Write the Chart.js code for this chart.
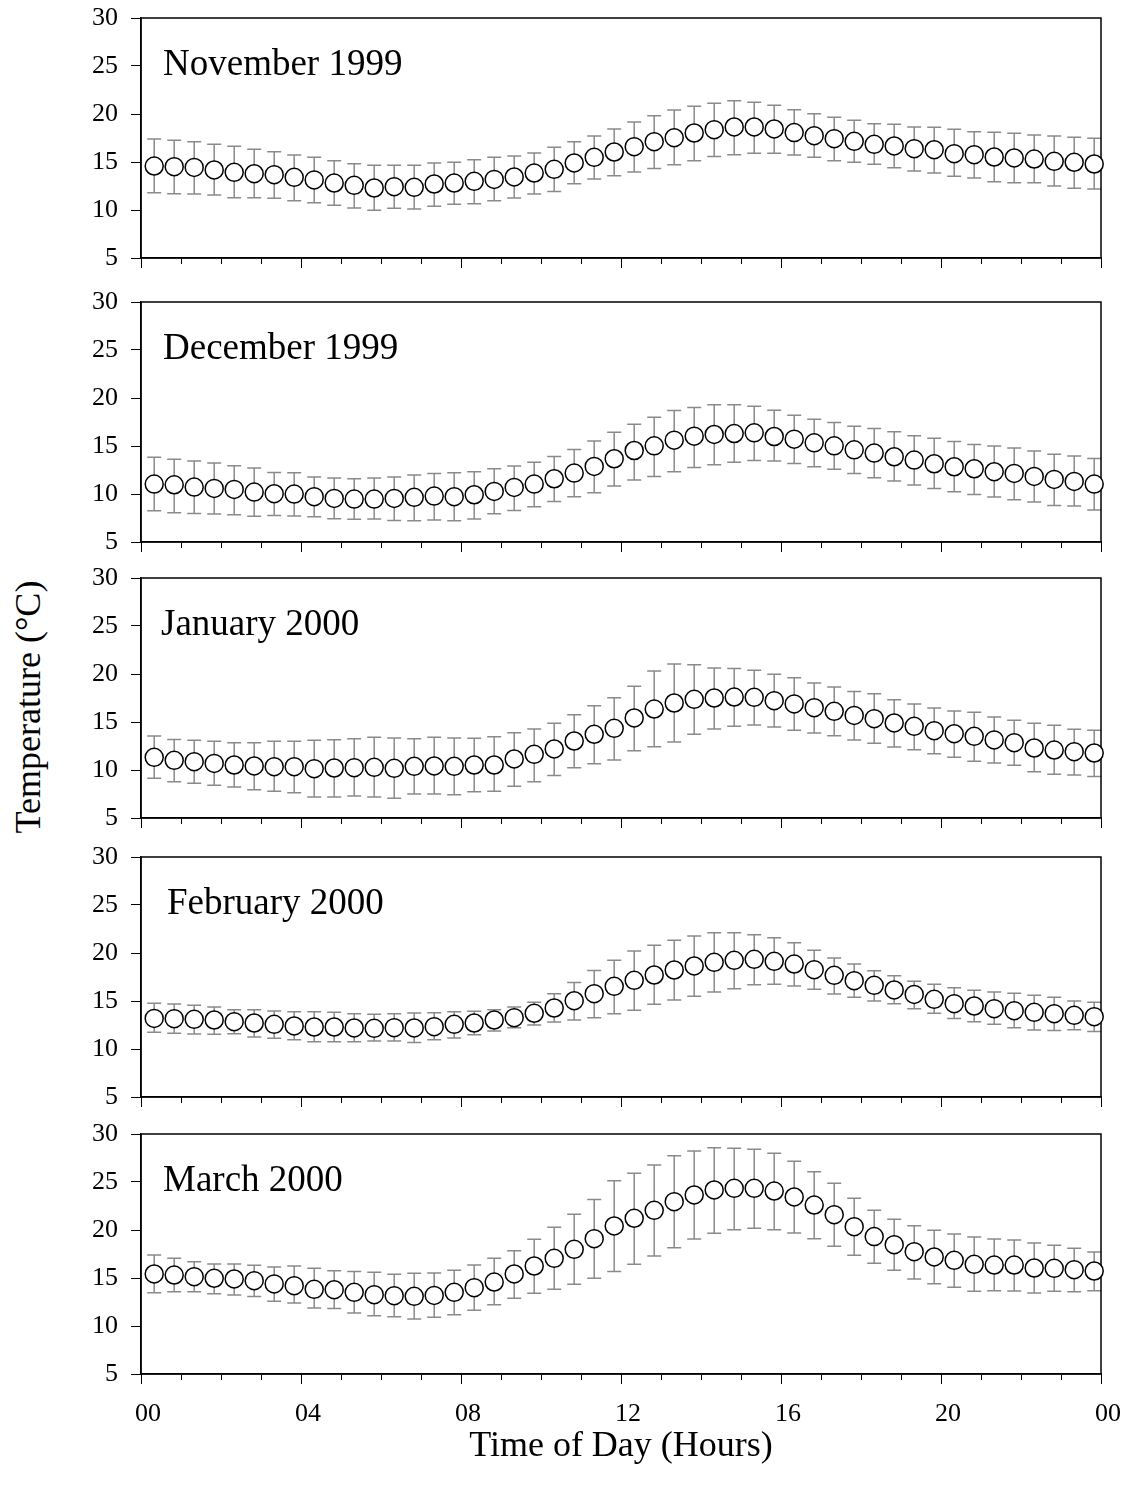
<!DOCTYPE html>
<html lang="en">
<head>
<meta charset="UTF-8">
<title>Diurnal Temperature, Nov 1999 - Mar 2000</title>
<style>
  body { margin: 0; background: #fff; }
  #wrap { position: relative; width: 1126px; height: 1494px; }
  #wrap canvas { position: absolute; left: 0; }
  #ytitle {
    position: absolute; left: 28px; top: 707px;
    transform: translate(-50%, -50%) rotate(-90deg);
    font: 36px "Liberation Serif", "Times New Roman", serif;
    white-space: nowrap; color: #000;
  }
</style>
</head>
<body>
<div id="wrap">
  <div id="ytitle">Temperature (°C)</div>
</div>

<script src="https://cdn.jsdelivr.net/npm/chart.js@4.4.0/dist/chart.umd.min.js"></script>
<script>
// half-hourly readings, hour of day
const hours = [0.33, 0.83, 1.33, 1.83, 2.33, 2.83, 3.33, 3.83, 4.33, 4.83, 5.33, 5.83,
               6.33, 6.83, 7.33, 7.83, 8.33, 8.83, 9.33, 9.83, 10.33, 10.83, 11.33, 11.83,
               12.33, 12.83, 13.33, 13.83, 14.33, 14.83, 15.33, 15.83, 16.33, 16.83, 17.33, 17.83,
               18.33, 18.83, 19.33, 19.83, 20.33, 20.83, 21.33, 21.83, 22.33, 22.83, 23.33, 23.83];
const hourTicks = [0, 4, 8, 12, 16, 20, 24];

const novMean = [14.58, 14.51, 14.44, 14.17, 13.92, 13.78, 13.68, 13.40, 13.13, 12.81, 12.57, 12.29,
                 12.43, 12.36, 12.71, 12.81, 12.99, 13.19, 13.44, 13.85, 14.24, 14.90, 15.49, 16.04,
                 16.60, 17.12, 17.53, 18.02, 18.37, 18.65, 18.65, 18.44, 18.06, 17.74, 17.43, 17.15,
                 16.84, 16.67, 16.39, 16.28, 15.87, 15.76, 15.52, 15.42, 15.31, 15.07, 14.97, 14.79];
const novHigh = [17.40, 17.26, 17.12, 16.84, 16.63, 16.32, 16.08, 15.73, 15.49, 15.14, 14.83, 14.65,
                 14.65, 14.65, 14.90, 14.97, 15.24, 15.49, 15.63, 15.94, 16.53, 17.12, 17.71, 18.44,
                 19.17, 19.83, 20.42, 20.80, 21.11, 21.39, 21.22, 20.90, 20.45, 20.03, 19.65, 19.34,
                 18.99, 18.92, 18.65, 18.61, 18.40, 18.16, 18.09, 17.99, 17.81, 17.71, 17.57, 17.47];
const novLow  = [11.80, 11.70, 11.67, 11.56, 11.28, 11.28, 11.22, 10.97, 10.76, 10.49, 10.21, 9.97,
                 10.17, 10.10, 10.38, 10.59, 10.66, 10.97, 11.25, 11.67, 11.94, 12.74, 13.23, 13.58,
                 13.96, 14.31, 14.72, 15.14, 15.56, 15.76, 15.90, 15.90, 15.73, 15.49, 15.14, 14.97,
                 14.76, 14.41, 14.06, 13.85, 13.51, 13.33, 12.95, 12.85, 12.85, 12.50, 12.26, 12.19];

const decMean = [11.03, 10.96, 10.72, 10.58, 10.48, 10.20, 10.03, 9.99, 9.72, 9.54, 9.47, 9.47,
                 9.54, 9.65, 9.78, 9.72, 9.92, 10.27, 10.69, 11.03, 11.59, 12.18, 12.87, 13.67,
                 14.53, 15.02, 15.61, 16.02, 16.20, 16.30, 16.37, 15.99, 15.71, 15.33, 15.02, 14.60,
                 14.26, 13.88, 13.53, 13.15, 12.84, 12.63, 12.32, 12.14, 11.83, 11.52, 11.31, 11.03];
const decHigh = [13.84, 13.63, 13.43, 13.22, 12.94, 12.70, 12.25, 12.21, 11.76, 11.66, 11.59, 11.66,
                 11.76, 11.97, 12.14, 12.21, 12.32, 12.63, 12.91, 13.32, 13.91, 14.64, 15.51, 16.44,
                 17.27, 18.00, 18.70, 19.01, 19.29, 19.29, 19.15, 18.73, 18.21, 17.79, 17.45, 17.07,
                 16.82, 16.48, 16.06, 15.82, 15.47, 15.16, 14.99, 14.78, 14.47, 14.15, 13.95, 13.70];
const decLow  = [8.26, 8.05, 7.98, 7.91, 7.84, 7.67, 7.77, 7.70, 7.64, 7.43, 7.36, 7.39,
                 7.25, 7.22, 7.29, 7.22, 7.39, 7.95, 8.29, 8.68, 9.23, 9.72, 10.13, 10.83,
                 11.45, 11.83, 12.32, 12.77, 13.04, 13.32, 13.50, 13.43, 13.18, 12.84, 12.59, 12.14,
                 11.69, 11.35, 10.93, 10.58, 10.24, 9.96, 9.68, 9.40, 9.16, 8.81, 8.74, 8.33];

const janMean = [11.32, 11.01, 10.87, 10.69, 10.52, 10.42, 10.35, 10.35, 10.14, 10.21, 10.24, 10.28,
                 10.17, 10.38, 10.42, 10.38, 10.52, 10.52, 11.15, 11.63, 12.19, 13.02, 13.72, 14.34,
                 15.42, 16.35, 16.98, 17.36, 17.50, 17.60, 17.57, 17.22, 16.88, 16.49, 16.11, 15.69,
                 15.35, 14.90, 14.55, 14.10, 13.78, 13.51, 13.13, 12.85, 12.29, 12.08, 11.91, 11.77];
const janHigh = [13.54, 13.19, 13.09, 12.99, 12.85, 12.85, 12.99, 12.99, 13.09, 13.16, 13.26, 13.40,
                 13.33, 13.26, 13.40, 13.33, 13.30, 13.47, 13.89, 14.27, 14.86, 15.76, 16.70, 17.53,
                 18.72, 20.31, 21.04, 20.97, 20.63, 20.56, 20.38, 19.97, 19.62, 19.06, 18.65, 18.19,
                 17.95, 17.33, 16.88, 16.46, 16.15, 16.01, 15.52, 15.17, 14.86, 14.65, 14.24, 14.13];
const janLow  = [9.13, 8.78, 8.61, 8.40, 8.23, 7.95, 7.78, 7.64, 7.19, 7.19, 7.29, 7.19,
                 7.05, 7.50, 7.50, 7.43, 7.74, 7.78, 8.30, 8.78, 9.44, 10.24, 10.66, 11.04,
                 12.01, 12.43, 12.92, 13.72, 14.27, 14.55, 14.69, 14.48, 14.13, 13.85, 13.58, 13.13,
                 12.78, 12.40, 12.12, 11.70, 11.32, 10.90, 10.73, 10.49, 9.83, 9.55, 9.48, 9.31];

const febMean = [13.19, 13.16, 13.09, 13.02, 12.85, 12.71, 12.57, 12.40, 12.29, 12.29, 12.19, 12.15,
                 12.22, 12.19, 12.33, 12.57, 12.71, 13.02, 13.26, 13.72, 14.27, 15.03, 15.76, 16.53,
                 17.15, 17.71, 18.23, 18.65, 19.03, 19.24, 19.34, 19.13, 18.85, 18.26, 17.67, 17.12,
                 16.63, 16.15, 15.69, 15.17, 14.72, 14.48, 14.20, 13.99, 13.82, 13.68, 13.51, 13.37];
const febHigh = [14.76, 14.69, 14.55, 14.38, 14.10, 14.10, 13.96, 13.89, 13.89, 13.82, 13.68, 13.61,
                 13.68, 13.75, 13.78, 13.89, 13.92, 14.10, 14.38, 14.86, 15.76, 16.94, 18.19, 19.24,
                 20.21, 20.80, 21.32, 21.77, 22.12, 22.12, 21.91, 21.60, 21.08, 20.28, 19.48, 18.85,
                 18.16, 17.64, 17.05, 16.74, 16.39, 16.11, 15.94, 15.80, 15.59, 15.38, 15.00, 14.86];
const febLow  = [11.74, 11.63, 11.56, 11.53, 11.60, 11.25, 11.11, 10.97, 10.76, 10.76, 10.76, 10.83,
                 10.83, 10.69, 10.97, 11.15, 11.49, 11.88, 12.22, 12.50, 12.81, 13.02, 13.26, 13.68,
                 14.03, 14.65, 15.10, 15.49, 15.94, 16.28, 16.70, 16.74, 16.56, 16.22, 15.73, 15.38,
                 15.00, 14.72, 14.20, 13.72, 13.19, 12.85, 12.57, 12.22, 11.98, 11.94, 12.01, 11.81];

const marMean = [15.42, 15.31, 15.14, 14.97, 14.90, 14.72, 14.38, 14.20, 13.82, 13.78, 13.51, 13.26,
                 13.16, 13.09, 13.19, 13.51, 13.99, 14.58, 15.42, 16.25, 17.05, 17.99, 19.10, 20.42,
                 21.22, 22.05, 22.95, 23.65, 24.17, 24.34, 24.34, 24.06, 23.44, 22.60, 21.60, 20.35,
                 19.31, 18.47, 17.74, 17.19, 16.84, 16.42, 16.35, 16.35, 16.04, 16.01, 15.87, 15.73];
const marHigh = [17.40, 17.05, 16.70, 16.46, 16.46, 16.32, 16.15, 16.25, 16.01, 15.76, 15.69, 15.59,
                 15.38, 15.49, 15.52, 15.80, 16.35, 17.05, 17.85, 19.03, 20.28, 21.63, 23.19, 25.14,
                 25.90, 26.77, 27.74, 28.23, 28.58, 28.51, 28.40, 27.99, 27.15, 26.08, 24.86, 23.30,
                 22.05, 21.11, 20.45, 19.97, 19.58, 19.27, 19.06, 18.96, 18.65, 18.40, 18.09, 17.71];
const marLow  = [13.47, 13.58, 13.58, 13.37, 13.23, 13.06, 12.57, 12.40, 11.88, 11.81, 11.35, 11.08,
                 10.97, 10.73, 10.90, 11.18, 11.63, 12.22, 12.88, 13.40, 13.82, 14.34, 14.97, 15.69,
                 16.42, 17.29, 18.16, 19.06, 19.65, 20.03, 20.17, 20.03, 19.69, 19.10, 18.30, 17.36,
                 16.53, 15.80, 14.90, 14.41, 14.03, 13.61, 13.68, 13.65, 13.44, 13.61, 13.58, 13.68];

const months = ['November 1999', 'December 1999', 'January 2000', 'February 2000', 'March 2000'];
const means  = [novMean, decMean, janMean, febMean, marMean];
const highs  = [novHigh, decHigh, janHigh, febHigh, marHigh];
const lows   = [novLow, decLow, janLow, febLow, marLow];

// layout of the stacked panels
const plotTops = [18, 302, 578, 857, 1134];
const titleIndent = [22, 22, 20, 26, 22];
const FONT = '"Liberation Serif", "Times New Roman", serif';

// whiskers for mean +/- one deviation, drawn under the markers
const errorBars = {
  id: 'errorBars',
  beforeDatasetsDraw(chart, args, opts) {
    const { ctx, scales: { x, y } } = chart;
    ctx.save();
    ctx.strokeStyle = '#8a8a8a';
    ctx.lineWidth = 1.5;
    ctx.beginPath();
    hours.forEach((h, i) => {
      const px = x.getPixelForValue(h);
      const yh = y.getPixelForValue(opts.high[i]);
      const yl = y.getPixelForValue(opts.low[i]);
      ctx.moveTo(px, yh); ctx.lineTo(px, yl);
      ctx.moveTo(px - 7, yh); ctx.lineTo(px + 7, yh);
      ctx.moveTo(px - 7, yl); ctx.lineTo(px + 7, yl);
    });
    ctx.stroke();
    ctx.restore();
  }
};

// closes the box on the top and right sides
const frame = {
  id: 'frame',
  beforeDatasetsDraw(chart) {
    const { ctx, chartArea: a } = chart;
    ctx.save();
    ctx.strokeStyle = '#000';
    ctx.lineWidth = 1.5;
    ctx.strokeRect(a.left, a.top, a.right - a.left, a.bottom - a.top);
    ctx.restore();
  }
};

const panelTitle = {
  id: 'panelTitle',
  afterDraw(chart, args, opts) {
    const { ctx, chartArea: a } = chart;
    ctx.save();
    ctx.font = '37px ' + FONT;
    ctx.fillStyle = '#000';
    ctx.textBaseline = 'alphabetic';
    ctx.fillText(opts.text, a.left + opts.indent, a.top + 57);
    ctx.restore();
  }
};

// keep tick labels from shrinking the plot area
function noLabelPadding(s) {
  s.paddingTop = 0; s.paddingBottom = 0;
  s.paddingLeft = 0; s.paddingRight = 0;
}

function makePanel(i) {
  const last = i === months.length - 1;
  const canvas = document.createElement('canvas');
  canvas.width = 1126;
  canvas.height = last ? 1494 - (plotTops[i] - 12) : 266;
  canvas.style.top = (plotTops[i] - 12) + 'px';
  document.getElementById('wrap').appendChild(canvas);

  new Chart(canvas, {
    type: 'scatter',
    data: {
      datasets: [{
        data: hours.map((h, k) => ({ x: h, y: means[i][k] })),
        pointRadius: 9,
        pointHoverRadius: 9,
        pointBorderWidth: 1.5,
        pointBackgroundColor: '#fff',
        pointBorderColor: '#000',
        clip: false
      }]
    },
    options: {
      responsive: false,
      animation: false,
      events: [],
      layout: { padding: { top: 12, right: 25, bottom: last ? 20 : 0, left: 0 } },
      plugins: {
        legend: { display: false },
        tooltip: { enabled: false },
        errorBars: { high: highs[i], low: lows[i] },
        panelTitle: { text: months[i], indent: titleIndent[i] }
      },
      scales: {
        x: {
          type: 'linear', position: 'bottom', weight: 1,
          min: 0, max: 24,
          afterBuildTicks: s => { s.ticks = hourTicks.map(v => ({ value: v })); },
          ticks: {
            display: last,
            padding: 15,
            labelOffset: 7,
            color: '#000',
            font: { family: FONT, size: 26 },
            callback: v => String(v % 24).padStart(2, '0')
          },
          grid: { drawOnChartArea: false, tickLength: 10, tickColor: '#000', tickWidth: 1 },
          border: { display: false },
          title: {
            display: last,
            text: 'Time of Day (Hours)',
            color: '#000',
            font: { family: FONT, size: 36 },
            padding: { top: 0, bottom: 6 }
          },
          afterFit: s => { s.height = last ? 100 : 14; noLabelPadding(s); }
        },
        xMinor: {
          type: 'linear', axis: 'x', position: 'bottom', weight: 0,
          min: 0, max: 24,
          ticks: { display: false, stepSize: 1 },
          grid: { drawOnChartArea: false, tickLength: 6, tickColor: '#000', tickWidth: 1 },
          border: { color: '#000', width: 1.5 },
          afterFit: s => { s.height = 0; noLabelPadding(s); }
        },
        y: {
          min: 5, max: 30,
          ticks: { stepSize: 5, padding: 13, color: '#000', font: { family: FONT, size: 26 } },
          grid: { drawOnChartArea: false, tickLength: 10, tickColor: '#000', tickWidth: 1 },
          border: { color: '#000', width: 1.5 },
          afterFit: s => { s.width = 141; noLabelPadding(s); }
        }
      }
    },
    plugins: [errorBars, frame, panelTitle]
  });
}

months.forEach((m, i) => makePanel(i));
</script>
</body>
</html>
